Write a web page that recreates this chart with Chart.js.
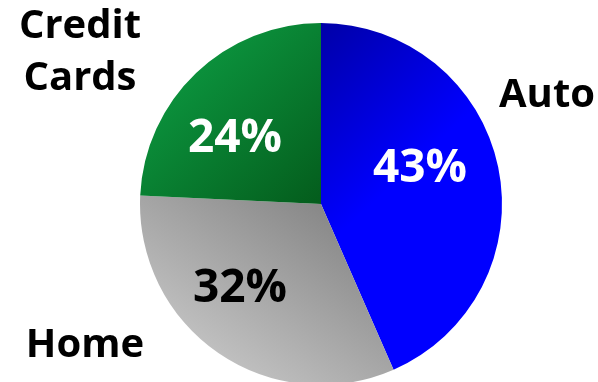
<!DOCTYPE html>
<html>
<head>
<meta charset="utf-8">
<script src="https://cdn.jsdelivr.net/npm/chart.js@4/dist/chart.umd.min.js"></script>
<style>
  html, body { margin: 0; padding: 0; background: #fff; overflow: hidden; width: 598px; height: 382px; }
  #wrap { width: 598px; height: 392px; }
</style>
</head>
<body>
<div id="wrap"><canvas id="loanChart" width="598" height="392"></canvas></div>
<script>
// share of loans by type, in percent (clockwise from the top)
const categories = ['Auto', 'Home', 'Credit Cards']
const shares = [43, 32, 24]
const categoryLines = [['Auto'], ['Home'], ['Credit', 'Cards']]

const valueColors = ['#ffffff', '#000000', '#ffffff']
const FONT = '"Open Sans", "DejaVu Sans", sans-serif'

// label anchors relative to the pie centre (x, baseline)
const valueOffsets = [[99, -22], [-81, 98], [-86, -52]]
const nameOffsets = [[[226, -97]], [[-236, 153]], [[-241, -166], [-241, -114]]]

// one gradient per slice, points given as fractions of the radius
const sliceGradients = [
    { from: [-0.15, -1.0], to: [0.55, -0.25], stops: ['#00009e', '#0000ff'] },
    { from: [0.05, 0.0], to: [-0.6, 0.95], stops: ['#868686', '#c6c6c6'] },
    { from: [-0.7, -0.75], to: [0.0, 0.0], stops: ['#0b913c', '#045c1c'] }
]

const sliceFill = (context) => {
    const chart = context.chart
    const area = chart.chartArea
    const i = context.dataIndex
    if (!area) return sliceGradients[i].stops[1]
    const cx = (area.left + area.right) / 2
    const cy = (area.top + area.bottom) / 2
    const r = Math.min(area.right - area.left, area.bottom - area.top) / 2
    const g = sliceGradients[i]
    const grad = chart.ctx.createLinearGradient(
        cx + g.from[0] * r, cy + g.from[1] * r,
        cx + g.to[0] * r, cy + g.to[1] * r)
    grad.addColorStop(0, g.stops[0])
    grad.addColorStop(1, g.stops[1])
    return grad
}

const pieLabels = {
    id: 'pieLabels',
    afterDatasetsDraw(chart) {
        const ctx = chart.ctx
        const arcs = chart.getDatasetMeta(0).data
        ctx.save()
        ctx.textAlign = 'center'
        ctx.textBaseline = 'alphabetic'
        arcs.forEach((arc, i) => {
            const { x, y } = arc.getProps(['x', 'y'], true)
            ctx.font = 'bold 46px ' + FONT
            ctx.fillStyle = valueColors[i]
            ctx.fillText(shares[i] + '%', x + valueOffsets[i][0], y + valueOffsets[i][1])

            ctx.font = 'bold 40px ' + FONT
            ctx.fillStyle = '#000000'
            categoryLines[i].forEach((line, j) => {
                const off = nameOffsets[i][j]
                ctx.fillText(line, x + off[0], y + off[1])
            })
        })
        ctx.restore()
    }
}

var myChart = new Chart(document.getElementById('loanChart'), {
    type: 'pie',
    data: {
        labels: categories,
        datasets: [{
            data: shares,
            backgroundColor: sliceFill,
            borderWidth: 0
        }]
    },
    options: {
        responsive: false,
        animation: false,
        layout: {
            padding: { left: 140, right: 96, top: 23, bottom: 7 }
        },
        plugins: {
            legend: { display: false },
            tooltip: { enabled: false }
        }
    },
    plugins: [pieLabels]
})
</script>
</body>
</html>
